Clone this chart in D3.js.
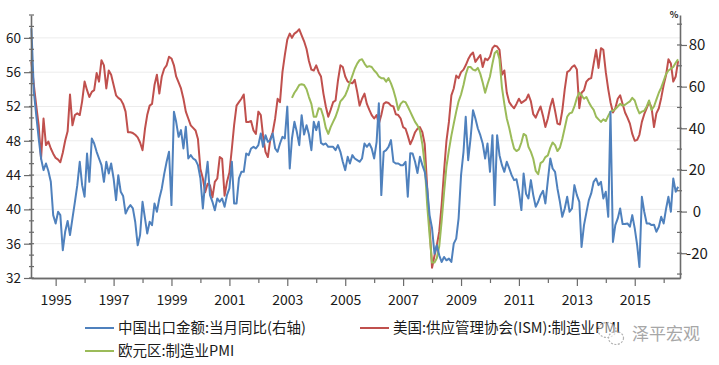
<!DOCTYPE html>
<html>
<head>
<meta charset="utf-8">
<script src="https://cdn.jsdelivr.net/npm/d3@7"></script>
<style>
  body { margin: 0; background: #fff; }
  svg { display: block; }
  text { font-family: "Noto Sans CJK SC", "Noto Sans", sans-serif; }
</style>
</head>
<body>
<svg class="chart"></svg>
<script>
// monthly series, first value = Mar 1994 (as placed on the chart's time axis)
const firstMonth = new Date(1994, 2, 1);

// 美国:供应管理协会(ISM):制造业PMI (left axis)
const usIsm = [
  57.2, 54.5, 52.1, 49.8, 45.9, 50.6, 47.5, 47.9, 47.1, 46.5,
  46.0, 45.8, 45.5, 46.6, 48.0, 49.1, 53.4, 49.8, 51.0, 51.2,
  51.0, 52.6, 54.9, 53.9, 53.1, 53.7, 53.9, 55.9, 54.9, 57.4,
  56.8, 54.1, 56.2, 55.7, 54.5, 53.3, 53.0, 52.8, 52.3, 51.4,
  49.0, 49.0, 48.9, 48.7, 48.4, 47.8, 46.9, 49.4, 51.0, 52.1,
  52.3, 54.5, 55.7, 53.5, 55.5, 56.4, 56.8, 57.8, 57.6, 56.8,
  55.5, 54.8, 54.1, 52.9, 51.4, 50.6, 49.8,
  49.5, 49.2, 48.2, 44.7, 43.6, 42.0, 43.0, 42.8, 41.4, 43.2,
  43.6, 46.1, 45.9, 41.6, 43.2, 44.3, 47.1, 49.8, 52.1, 52.5,
  52.9, 53.4, 50.2, 50.2, 50.3, 49.2, 48.8, 51.4, 51.0, 48.6,
  46.7, 46.1, 48.2, 49.0, 50.6, 52.9, 52.5, 56.0, 58.0, 59.8,
  60.5, 60.0, 60.5, 60.7, 61.0, 60.3, 59.6, 58.7, 57.3, 56.3,
  56.2, 56.8, 56.0, 55.5, 53.5, 52.0, 50.8, 51.6, 52.5, 52.7,
  55.0, 56.8, 56.6, 55.5, 54.9, 54.8,
  54.7, 55.1, 53.7, 52.1, 52.9, 53.5, 52.3, 51.6, 51.0, 50.6,
  51.0, 50.0, 51.0, 52.3, 52.5, 52.4, 52.1, 52.0, 51.1, 51.0,
  50.6, 49.6, 49.4, 48.6, 47.6, 48.2, 49.0, 49.4, 49.6, 49.0,
  47.6, 42.5, 38.0, 33.2, 34.6, 35.8, 37.4, 40.5, 44.5, 48.0,
  50.2, 53.3, 54.1, 55.6, 55.3, 56.0, 56.3, 56.8, 57.5, 58.0,
  58.3, 57.2, 57.6, 58.0, 56.6, 57.6, 57.4, 57.8, 58.8, 59.1,
  59.0, 58.6, 55.7, 56.2, 53.6, 52.5, 52.1,
  51.8, 52.3, 52.9, 52.4, 52.6, 52.8, 53.4, 52.6, 51.1, 50.7,
  51.4, 52.0, 50.9, 49.6, 50.6, 52.0, 52.9, 51.5, 50.0, 49.9,
  51.5, 54.0, 56.0, 56.2, 56.6, 56.8, 56.3, 51.8, 53.6, 53.9,
  54.9, 55.2, 55.3, 57.0, 58.6, 56.5, 58.8, 58.6, 56.0, 54.0,
  52.5, 51.3, 51.8, 52.9, 53.3, 52.3, 51.3, 50.7, 50.0, 48.8,
  48.0, 48.1, 48.7, 50.2, 51.1, 51.8, 52.5, 51.9, 49.6, 51.2,
  51.8, 53.0, 54.5, 55.7, 57.5, 57.0, 54.9, 55.5, 57.3
];

// 欧元区:制造业PMI (left axis), starts 108 months after firstMonth
const euroStart = 108;
const euroPmi = [
  53.0, 53.6, 54.0, 54.5, 54.6, 54.5, 54.0, 53.1, 52.3, 50.8,
  50.8, 51.8, 51.7, 50.8, 49.5, 48.8, 49.6, 50.2, 50.8, 51.6,
  52.6, 52.9, 53.3, 54.0, 54.8, 55.6, 56.4,
  57.0, 57.4, 57.5, 57.0, 56.6, 56.7, 56.6, 56.2, 55.9, 55.5,
  55.3, 55.3, 54.9, 55.3, 54.7, 53.9, 52.9, 51.6, 52.3, 52.6,
  52.5, 52.0, 51.4, 50.8, 50.2, 49.8, 49.2, 47.6, 45.2, 40.5,
  37.0, 33.8, 33.8, 34.3, 35.7, 38.6, 42.0, 45.0, 46.9, 48.6,
  50.0, 51.4, 52.6, 53.4, 54.5, 55.7, 56.6, 56.6, 56.3, 56.2,
  56.5, 55.8, 54.8, 53.6, 54.6, 55.5, 57.0, 58.2, 58.5, 57.5,
  54.2, 52.3, 50.6, 49.5, 48.2, 47.1,
  46.8, 47.0, 47.8, 48.8, 48.6, 47.3, 46.7, 45.9, 44.5, 44.1,
  45.4, 45.6, 46.1, 46.3, 47.2, 47.8, 47.5, 46.8, 47.2, 48.2,
  49.5, 50.8, 51.2, 51.3, 52.0, 53.0, 53.6, 53.3, 52.9, 53.1,
  52.5, 52.0, 51.6, 50.8, 50.5, 50.2, 50.5, 50.3, 50.9, 51.4,
  51.5, 51.7, 52.0, 52.3, 52.1, 52.2, 52.4, 52.6, 53.0, 52.7,
  51.8, 51.2, 51.4, 51.5, 52.0, 52.7, 51.6, 52.0, 52.8, 53.6,
  54.2, 55.0, 55.8, 56.2, 56.4, 56.6, 57.1, 57.5
];

// 中国出口金额:当月同比 (right axis, %)
const chinaExports = [
  88, 57.6, 46.3, 35.1, 25.5, 19.9, 23.1, 19.5, 14.3, -1.7,
  -5.7, -0.1, -1.7, -18.6, -9.7, -4.5, -11.3, -3.3, 4.7, 12.7,
  23.9, 12.7, 7.1, 27.9, 14.3, 35.1, 32.7, 28.7, 25.5, 22.3,
  14.3, 23.9, 18.3, 23.1, 15.9, 5.5, 17.5, 9.5, 7.5, -0.9,
  1.5, 3.1, 1.5, -5, -16.2, -11.3, 4.7, -3.3, -10.5, -4.9,
  -6.5, 3.9, -0.1, 6.3, 11.1, 18, 23.9, 28.7, 3.1, 47.9,
  43.1, 35.9, 39.1, 30.3, 40.7, 25.5, 27.1,
  25.5, 24.7, 22.3, 16, 1.5, 14.3, 23.9, 7.9, 4.7, 0.6,
  6.3, 4.7, 6.3, 2.3, 7.9, 11.1, 23.9, 3.9, 3.9, 15.9,
  19.1, 19.1, 27.9, 27.1, 30.3, 31.1, 30.3, 31.9, 37.5, 31.1,
  36.7, 33.5, 34.3, 37.5, 30.3, 28.7, 32.7, 35.9, 35.1, 50.4,
  20.7, 35.1, 43.1, 38.3, 31.9, 46.3, 37, 41.5, 37, 29.5,
  43.1, 39.1, 43.1, 33, 32.1, 32.7, 31.1, 31.1, 31.1, 29.5,
  31.9, 28.7, 23.9, 19.9, 26.3, 23.1, 27.1,
  25.5, 24.7, 23.9, 25.5, 32.7, 31.1, 32.7, 30.3, 25.5, 33.5,
  52, 7.9, 28.7, 29.5, 31.1, 34.3, 23.9, 23.1, 23.1, 22.3,
  22.3, 23.9, 7.1, 28, 27.9, 23.9, 18.5, 26.3, 22.3, 19.1,
  11.1, -1.7, -8, -20.2, -16.2, -21, -24.2, -21.8, -23.4, -22.6,
  -24.2, -15.4, -13, -3.3, 17.5, 28.7, 45.5, 24.7, 35.1, 48.7,
  44.7, 39.9, 36.7, 32.7, 25.5, 32.7, 19.1, 36.7, 3.1, 36.7,
  27.1, 22.3, 19.1, 23.9, 20.7, 17.5, 15.1,
  15.5, 9.5, 0.7, 18.3, 8.5, 6.3, 15.1, 7.9, 2.3, 4.7,
  7.9, 10, 3.9, 15, 25.5, 20.7, 19.1, 11.1, 4.7, -2.5,
  1.5, 7.1, -0.1, 1.5, 12.7, 7.9, 4.7, -17, -6.5, -0.5,
  5.5, 8.7, 14.3, 15.9, 12.7, 14.3, 6.3, 9.5, -2.5, 47.9,
  -14.6, -6.5, -3.3, 1.5, -6, -6, -5.7, -7.3, -1.7, -8.1,
  -16.2, -26.6, 7.1, -0.1, -5.7, -5.7, -6.5, -6.3, -9.7, -7.3,
  -2.5, -5.7, 1.5, 7.1, -0.1, 15.9, 9.5, 11.9
];

const leftTicks = [32, 36, 40, 44, 48, 52, 56, 60];
const rightTicks = [-20, 0, 20, 40, 60, 80];
const yearLabels = [1995, 1997, 1999, 2001, 2003, 2005, 2007, 2009, 2011, 2013, 2015];

const seriesNames = ["中国出口金额:当月同比(右轴)", "美国:供应管理协会(ISM):制造业PMI", "欧元区:制造业PMI"];
const seriesColors = ["#4f81bd", "#c0504d", "#9bbb59"];

const width = 719, height = 365;
const svg = d3.select(".chart").attr("width", width).attr("height", height);

const plotLeft = 31, plotRight = 680, plotTop = 15, plotBottom = 278;
const axisColor = "#6b6b6b";

const x = d3.scaleTime()
  .domain([new Date(1994, 1, 24), new Date(2016, 6, 25)])
  .range([plotLeft, plotRight]);
const yL = d3.scaleLinear().domain([32, 62.667]).range([plotBottom, plotTop]);
const yR = d3.scaleLinear().domain([-31.9, 94.4]).range([plotBottom, plotTop]);

let monthAt = function(i) { return d3.timeMonth.offset(firstMonth, i); };

// grid
svg.append("g").selectAll("line")
  .data(leftTicks.filter(d => d > 32))
  .join("line")
  .attr("x1", plotLeft).attr("x2", plotRight)
  .attr("y1", d => yL(d)).attr("y2", d => yL(d))
  .attr("stroke", "#ececec").attr("stroke-width", 1);

// lines: primary first, secondary (right axis) on top
let drawLine = function(values, offset, yScale, color) {
  let line = d3.line()
    .x((d, i) => x(monthAt(i + offset)))
    .y(d => yScale(d));
  svg.append("path")
    .datum(values)
    .attr("d", line)
    .attr("fill", "none")
    .attr("stroke", color)
    .attr("stroke-width", 2)
    .attr("stroke-linejoin", "round");
};
drawLine(usIsm, 0, yL, seriesColors[1]);
drawLine(euroPmi, euroStart, yL, seriesColors[2]);
drawLine(chinaExports, 0, yR, seriesColors[0]);

// minor ticks
let minorLeft = d3.range(0, 24).map(i => 32 + i * 4 / 3);
svg.append("g").selectAll("line").data(minorLeft).join("line")
  .attr("x1", plotLeft - 2).attr("x2", plotLeft + 3)
  .attr("y1", d => yL(d)).attr("y2", d => yL(d))
  .attr("stroke", axisColor).attr("stroke-width", 1.2);
let minorRight = d3.range(-30, 100, 10);
svg.append("g").selectAll("line").data(minorRight).join("line")
  .attr("x1", plotRight - 3).attr("x2", plotRight + 2)
  .attr("y1", d => yR(d)).attr("y2", d => yR(d))
  .attr("stroke", axisColor).attr("stroke-width", 1.2);

// left axis
let gL = svg.append("g").attr("transform", `translate(${plotLeft},0)`)
  .call(d3.axisLeft(yL).tickValues(leftTicks).tickSize(7).tickSizeOuter(0).tickPadding(3).tickFormat(d3.format("d")));
gL.selectAll("text").attr("font-size", 13.5).attr("fill", "#1a1a1a");

// right axis
let gR = svg.append("g").attr("transform", `translate(${plotRight},0)`)
  .call(d3.axisRight(yR).tickValues(rightTicks).tickSize(7).tickSizeOuter(0).tickFormat(d => d < 0 ? "-" + Math.abs(d) : d));
gR.selectAll("text").attr("font-size", 15).attr("fill", "#1a1a1a")
  .attr("x", 17).attr("text-anchor", "middle");

// bottom axis: every year, labels on odd years
let allYears = d3.range(1995, 2017).map(y => new Date(y, 0, 1));
let gB2 = svg.append("g").attr("transform", `translate(0,${plotBottom})`)
  .call(d3.axisBottom(x).tickValues(allYears.filter(d => d.getFullYear() % 2 === 0)).tickSize(5).tickSizeOuter(0).tickFormat(""));
let gB = svg.append("g").attr("transform", `translate(0,${plotBottom})`)
  .call(d3.axisBottom(x).tickValues(yearLabels.map(y => new Date(y, 0, 1))).tickSize(8).tickSizeOuter(0).tickPadding(9).tickFormat(d3.timeFormat("%Y")));
gB.selectAll("text").attr("font-size", 14).attr("fill", "#1a1a1a");

[gL, gR, gB, gB2].forEach(g => {
  g.select(".domain").attr("stroke", axisColor).attr("stroke-width", 1.6);
  g.selectAll(".tick line").attr("stroke", axisColor).attr("stroke-width", 1.2);
});

// "%" unit on right axis
svg.append("text").attr("x", 674).attr("y", 18).attr("text-anchor", "middle")
  .attr("font-size", 9).attr("font-weight", "bold").attr("fill", "#222").text("%");

// legend
let legendItems = [
  { name: seriesNames[0], color: seriesColors[0], x: 85, y: 328 },
  { name: seriesNames[1], color: seriesColors[1], x: 360, y: 328 },
  { name: seriesNames[2], color: seriesColors[2], x: 85, y: 351 }
];
let lg = svg.append("g").selectAll("g").data(legendItems).join("g")
  .attr("transform", d => `translate(${d.x},${d.y})`);
lg.append("line").attr("x1", 0).attr("x2", 29).attr("y1", 0).attr("y2", 0)
  .attr("stroke", d => d.color).attr("stroke-width", 2);
lg.append("text").attr("x", 33).attr("y", 0).attr("dy", "0.35em")
  .attr("font-size", 14.5).attr("fill", "#1a1a1a").text(d => d.name);

// watermark
let wm = svg.append("g").attr("opacity", 0.75);
wm.append("ellipse").attr("cx", 607).attr("cy", 330).attr("rx", 9).attr("ry", 7.5)
  .attr("fill", "rgba(255,255,255,0.6)").attr("stroke", "#9a9a9a").attr("stroke-width", 1.2).attr("stroke-dasharray", "2,1.5");
wm.append("ellipse").attr("cx", 616).attr("cy", 338).attr("rx", 7.5).attr("ry", 6.5)
  .attr("fill", "rgba(255,255,255,0.6)").attr("stroke", "#9a9a9a").attr("stroke-width", 1.2).attr("stroke-dasharray", "2,1.5");
wm.append("text").attr("x", 632).attr("y", 334).attr("dy", "0.35em")
  .attr("font-size", 17).attr("fill", "#8a8a8a")
  .attr("stroke", "#fff").attr("stroke-width", 2.5).attr("paint-order", "stroke")
  .text("泽平宏观");
</script>
</body>
</html>
